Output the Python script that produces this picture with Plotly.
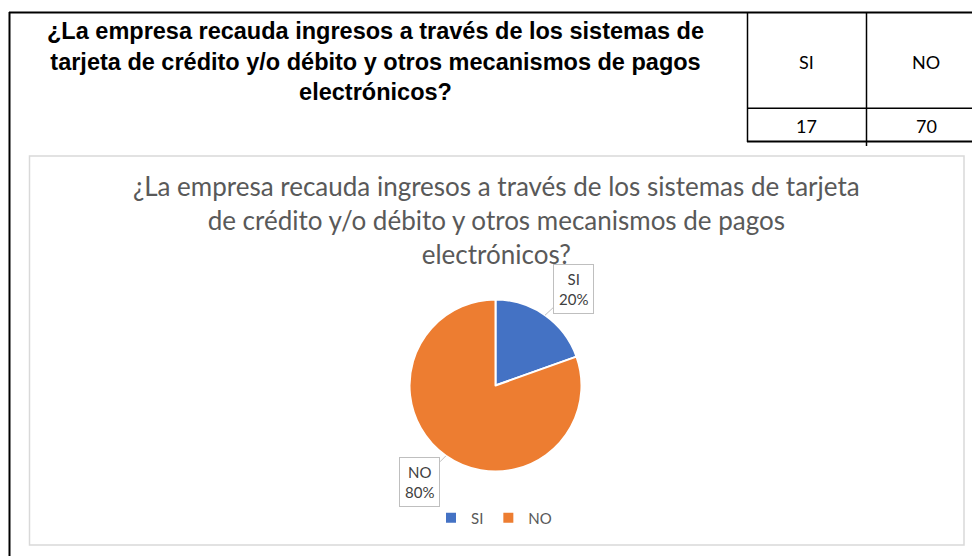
import math
import plotly.graph_objects as go

W, H = 972, 556

# ---- data ----
categories = ["SI", "NO"]
values = [17, 70]
colors = ["#4472C4", "#ED7D31"]
question = ("¿La empresa recauda ingresos a través de los sistemas de<br>"
            "tarjeta de crédito y/o débito y otros mecanismos de pagos<br>"
            "electrónicos?")
chart_title = ("¿La empresa recauda ingresos a través de los sistemas de tarjeta<br>"
               "de crédito y/o débito y otros mecanismos de pagos<br>"
               "electrónicos?")


def px(x):
    return x / W


def py(y):
    return 1 - y / H


# pie geometry (pixels)
cx, cy, r = 495.5, 385.5, 86

fig = go.Figure()
fig.add_trace(go.Pie(
    labels=categories, values=values, sort=False, direction="clockwise",
    rotation=0, marker=dict(colors=colors, line=dict(color="white", width=2)),
    textinfo="none", hoverinfo="label+percent",
    domain=dict(x=[px(cx - r), px(cx + r)], y=[py(cy + r), py(cy - r)]),
))

shapes = []
line_k = dict(color="black", width=2)
# table grid
shapes.append(dict(type="line", xref="paper", yref="paper", x0=px(9), x1=px(972), y0=py(12.5), y1=py(12.5), line=line_k))
shapes.append(dict(type="line", xref="paper", yref="paper", x0=px(9.5), x1=px(9.5), y0=py(12), y1=py(556), line=line_k))
shapes.append(dict(type="line", xref="paper", yref="paper", x0=px(747.5), x1=px(747.5), y0=py(12), y1=py(142), line=dict(color="black", width=1.5)))
shapes.append(dict(type="line", xref="paper", yref="paper", x0=px(866.5), x1=px(866.5), y0=py(12), y1=py(146), line=dict(color="black", width=1.5)))
shapes.append(dict(type="line", xref="paper", yref="paper", x0=px(747), x1=px(972), y0=py(108.3), y1=py(108.3), line=dict(color="black", width=1.5)))
shapes.append(dict(type="line", xref="paper", yref="paper", x0=px(747), x1=px(972), y0=py(141.5), y1=py(141.5), line=line_k))
# chart frame
shapes.append(dict(type="rect", xref="paper", yref="paper", x0=px(29.5), x1=px(964), y0=py(545), y1=py(156),
                   line=dict(color="#D9D9D9", width=1.5)))

annotations = []
annotations.append(dict(xref="paper", yref="paper", x=px(375), y=py(62), text="<b>" + question + "</b>",
                        showarrow=False, xanchor="center", yanchor="middle", align="center",
                        font=dict(family="Liberation Sans, Arial", size=23.5, color="black")))
cell_font = dict(family="Lato", size=18, color="black")
cells_x = [806, 926]
for i, c in enumerate(categories):
    annotations.append(dict(xref="paper", yref="paper", x=px(cells_x[i]), y=py(62), text=c,
                            showarrow=False, xanchor="center", yanchor="middle", font=cell_font))
    annotations.append(dict(xref="paper", yref="paper", x=px(cells_x[i]), y=py(126), text=str(values[i]),
                            showarrow=False, xanchor="center", yanchor="middle", font=cell_font))
annotations.append(dict(xref="paper", yref="paper", x=px(496), y=py(220), text=chart_title,
                        showarrow=False, xanchor="center", yanchor="middle", align="center",
                        font=dict(family="Lato", size=26, color="#595959")))

# data labels with leader lines
total = sum(values)
offsets = [(28, -26), (-26, 26)]
cum = 0
for i, v in enumerate(values):
    mid = (cum + v / 2) / total * 2 * math.pi
    cum += v
    tx = cx + r * math.sin(mid)
    ty = cy - r * math.cos(mid)
    pct = round(100 * v / total)
    annotations.append(dict(xref="paper", yref="paper", x=px(tx), y=py(ty),
                            text=f"{categories[i]}<br>{pct}%", showarrow=True, arrowhead=0,
                            arrowwidth=1, arrowcolor="#BFBFBF", ax=offsets[i][0], ay=offsets[i][1],
                            bordercolor="#BFBFBF", borderwidth=1, borderpad=5, bgcolor="white",
                            font=dict(family="Lato", size=15, color="#404040")))

fig.update_layout(
    width=W, height=H, margin=dict(l=0, r=0, t=0, b=0),
    paper_bgcolor="white", plot_bgcolor="white",
    shapes=shapes, annotations=annotations,
    showlegend=True,
    legend=dict(orientation="h", x=px(494), xanchor="center", y=py(518), yanchor="middle",
                font=dict(family="Lato", size=15, color="#595959"), itemwidth=30,
                bgcolor="rgba(0,0,0,0)"),
)

fig.write_html("out.html", config={"displayModeBar": False},
               post_script="document.body.style.margin='0';")
